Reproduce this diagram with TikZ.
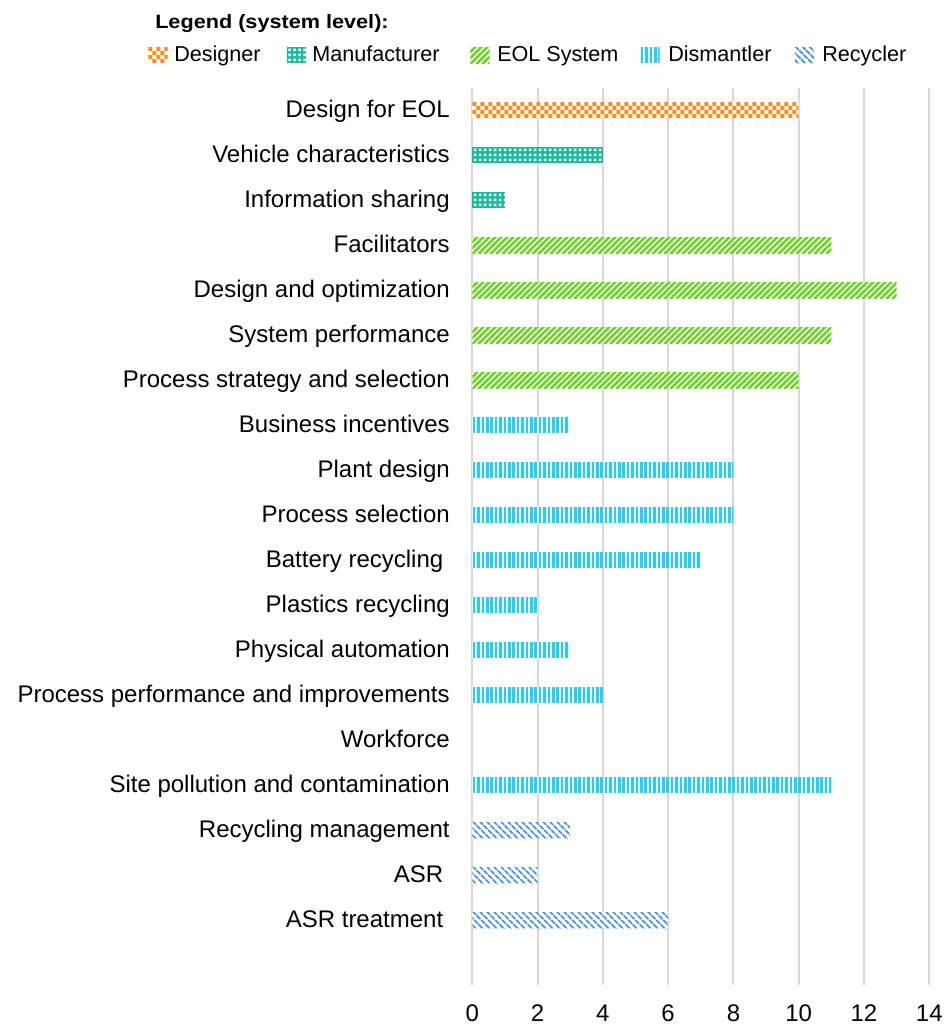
\documentclass[tikz,border=0pt]{standalone}
\usepackage{fontspec}
\usepackage{graphicx}
\setmainfont{Liberation Sans}
\definecolor{cOrange}{RGB}{255,140,20}
\definecolor{cTeal}{RGB}{24,188,156}
\definecolor{cGreen}{RGB}{104,214,30}
\definecolor{cCyan}{RGB}{30,210,245}
\definecolor{cBlue}{RGB}{66,140,230}
\definecolor{cGrid}{RGB}{217,217,217}
\tikzset{
  bar/.style={inner sep=0pt, outer sep=0pt, minimum height=12pt, anchor=west},
  swatch/.style={inner sep=0pt, outer sep=0pt, minimum height=12pt, minimum width=14.5pt},
  lbl/.style={anchor=base east, inner sep=0pt, font=\fontsize{18}{20}\selectfont},
  leg/.style={anchor=base west, inner sep=0pt, font=\fontsize{16.2}{18}\selectfont},
  tick/.style={anchor=base, inner sep=0pt, font=\fontsize{18}{20}\selectfont},
  gridline/.style={draw=cGrid, line width=1.5pt},
  eolline/.style={draw=cGreen, line width=1.8pt},
  recline/.style={draw=cBlue, line width=1.25pt, dash pattern=on 4pt off 0.7pt}
}
% pattern drawings, in pixel units from the bar's top-left corner (y downwards)
\newcommand\PatDesigner{\foreach \k in {0,...,54}{
   \fill[cOrange] (8*\k,0) rectangle ++(4,4) (8*\k+4,4) rectangle ++(4,4)
                  (8*\k,8) rectangle ++(4,4) (8*\k+4,12) rectangle ++(4,4);}}
\newcommand\PatManuf{\foreach \k in {0,...,86}{
   \fill[white] (5*\k+1.5,1.5) rectangle ++(2.5,2.5) (5*\k+1.5,6.5) rectangle ++(2.5,2.5)
                (5*\k+1.5,11.5) rectangle ++(2.5,2.5);}}
\newcommand\PatEol{\foreach \k in {-3,...,75}{\draw[eolline] (6*\k,17) -- (6*\k+18,-1);}}
\newcommand\PatDism{\foreach \k in {0,...,100}{\fill[cCyan] (4.4*\k+0.5,0) rectangle ++(2.6,16);}}
\newcommand\PatRec{\foreach \k in {-4,...,65}{\draw[recline] (7*\k,-1) -- (7*\k+18,17);}}
\newcommand\drawpat[2]{%
  \begin{scope}
    \clip (#1.south west) rectangle (#1.north east);
    \begin{scope}[shift={(#1.north west)}]
      #2
    \end{scope}
  \end{scope}}
% \mkbar{name}{y centre}{value}{fill}{pattern}
\newcommand\mkbar[5]{%
  \node[bar, fill=#4, minimum width=#3*24.48pt] (#1) at (472.3,#2) {};
  \drawpat{#1}{#5}}
% \mkswatch{name}{x centre}{fill}{pattern}
\newcommand\mkswatch[4]{%
  \node[swatch, fill=#3] (#1) at (#2,55) {};
  \drawpat{#1}{#4}}
\begin{document}
\begin{tikzpicture}[x=0.75pt,y=-0.75pt]
\useasboundingbox (0,0) rectangle (944,1025);
% grid and ticks
\foreach \k/\n in {0/0,1/2,2/4,3/6,4/8,5/10,6/12,7/14}{
  \coordinate (gt\k) at (472.3+65.28*\k,88);
  \coordinate (gb\k) at (472.3+65.28*\k,985);
  \draw[gridline] (gt\k) -- (gb\k);
  \node[tick] (t\k) at (472.3+65.28*\k,1021.7) {\n};
}
% legend
\node[anchor=base west, inner sep=0pt] (title) at (155,28.3)
  {\fontsize{14.5}{16}\selectfont\bfseries\scalebox{1.12}[1]{Legend (system level):}};
\mkswatch{s1}{158}{white}{\PatDesigner}
\node[leg] (e1) at (174,61.7) {Designer};
\mkswatch{s2}{296.5}{cTeal}{\PatManuf}
\node[leg] (e2) at (312,61.7) {Manufacturer};
\mkswatch{s3}{480}{white}{\PatEol}
\node[leg] (e3) at (497,61.7) {EOL System};
\mkswatch{s4}{650}{white}{\PatDism}
\node[leg] (e4) at (668,61.7) {Dismantler};
\mkswatch{s5}{804.5}{white}{\PatRec}
\node[leg] (e5) at (822,61.7) {Recycler};
% category labels
\node[lbl] (l0)  at (450,117.5) {Design for EOL};
\node[lbl] (l1)  at (450,162.5) {Vehicle characteristics};
\node[lbl] (l2)  at (450,207.5) {Information sharing};
\node[lbl] (l3)  at (450,252.5) {Facilitators};
\node[lbl] (l4)  at (450,297.5) {Design and optimization};
\node[lbl] (l5)  at (450,342.5) {System performance};
\node[lbl] (l6)  at (450,387.5) {Process strategy and selection};
\node[lbl] (l7)  at (450,432.5) {Business incentives};
\node[lbl] (l8)  at (450,477.5) {Plant design};
\node[lbl] (l9)  at (450,522.5) {Process selection};
\node[lbl] (l10) at (443.5,567.5) {Battery recycling};
\node[lbl] (l11) at (450,612.5) {Plastics recycling};
\node[lbl] (l12) at (450,657.5) {Physical automation};
\node[lbl] (l13) at (450,702.5) {Process performance and improvements};
\node[lbl] (l14) at (450,747.5) {Workforce};
\node[lbl] (l15) at (450,792.5) {Site pollution and contamination};
\node[lbl] (l16) at (450,837.5) {Recycling management};
\node[lbl] (l17) at (443.5,882.5) {ASR};
\node[lbl] (l18) at (443.5,927.5) {ASR treatment};
% bars
\mkbar{b0}{110}{10}{white}{\PatDesigner}
\mkbar{b1}{155}{4}{cTeal}{\PatManuf}
\mkbar{b2}{200}{1}{cTeal}{\PatManuf}
\mkbar{b3}{245}{11}{white}{\PatEol}
\mkbar{b4}{290}{13}{white}{\PatEol}
\mkbar{b5}{335}{11}{white}{\PatEol}
\mkbar{b6}{380}{10}{white}{\PatEol}
\mkbar{b7}{425}{3}{white}{\PatDism}
\mkbar{b8}{470}{8}{white}{\PatDism}
\mkbar{b9}{515}{8}{white}{\PatDism}
\mkbar{b10}{560}{7}{white}{\PatDism}
\mkbar{b11}{605}{2}{white}{\PatDism}
\mkbar{b12}{650}{3}{white}{\PatDism}
\mkbar{b13}{695}{4}{white}{\PatDism}
\mkbar{b15}{785}{11}{white}{\PatDism}
\mkbar{b16}{830}{3}{white}{\PatRec}
\mkbar{b17}{875}{2}{white}{\PatRec}
\mkbar{b18}{920}{6}{white}{\PatRec}
\end{tikzpicture}
\end{document}
